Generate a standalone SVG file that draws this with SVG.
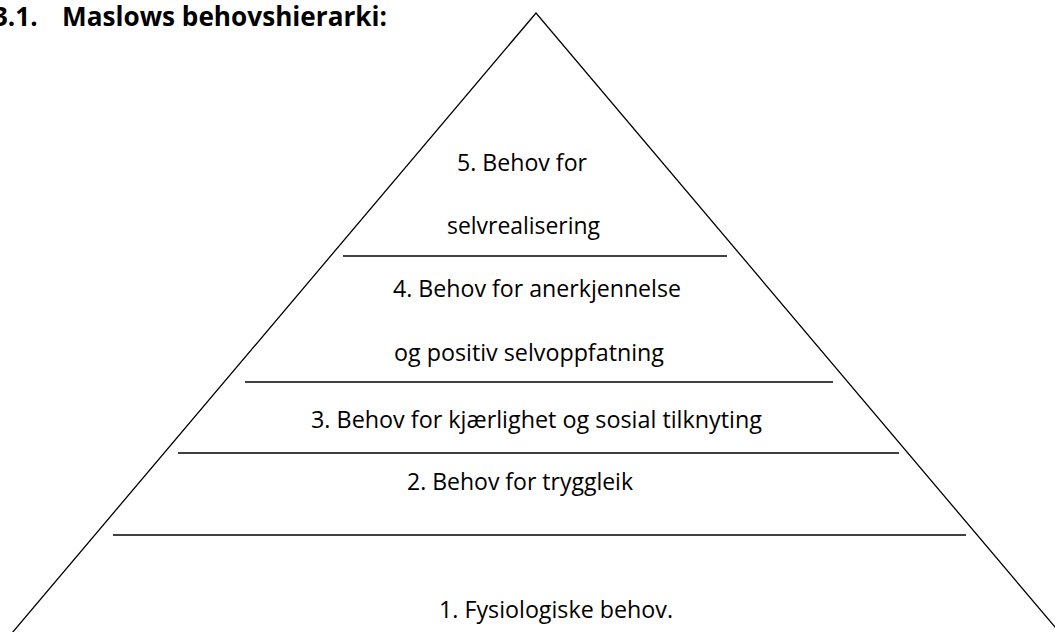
<svg xmlns="http://www.w3.org/2000/svg" width="1055" height="632" viewBox="0 0 1055 632">
  <style>
    .lbl { font-family: "Open Sans", "Liberation Sans", sans-serif; font-size: 23px; fill: #000; }
    .title { font-family: "Open Sans", "Liberation Sans", sans-serif; font-size: 26px; font-weight: bold; fill: #000; }
    .edge { stroke: #000; stroke-width: 1.3; fill: none; }
    .div { stroke: #000; stroke-width: 1.6; fill: none; }
  </style>
  <rect x="0" y="0" width="1055" height="632" fill="#fff"/>
  <g id="title">
    <text class="title" x="-7" y="26">3.1.</text>
    <text class="title" x="62" y="26" textLength="325" lengthAdjust="spacingAndGlyphs">Maslows behovshierarki:</text>
  </g>
  <g id="connectors">
    <polyline class="edge" points="12,633 536,13 1060,633"/>
    <line class="div" x1="343" y1="256" x2="727" y2="256"/>
    <line class="div" x1="245" y1="382" x2="833" y2="382"/>
    <line class="div" x1="178" y1="453" x2="899" y2="453"/>
    <line class="div" x1="113" y1="535" x2="966" y2="535"/>
  </g>
  <g id="level5">
    <text class="lbl" x="457" y="171" textLength="130" lengthAdjust="spacingAndGlyphs">5. Behov for</text>
    <text class="lbl" x="447" y="234" textLength="153" lengthAdjust="spacingAndGlyphs">selvrealisering</text>
  </g>
  <g id="level4">
    <text class="lbl" x="393" y="297" textLength="288" lengthAdjust="spacingAndGlyphs">4. Behov for anerkjennelse</text>
    <text class="lbl" x="394" y="361" textLength="270" lengthAdjust="spacingAndGlyphs">og positiv selvoppfatning</text>
  </g>
  <g id="level3">
    <text class="lbl" x="311" y="428" textLength="451" lengthAdjust="spacingAndGlyphs">3. Behov for kjærlighet og sosial tilknyting</text>
  </g>
  <g id="level2">
    <text class="lbl" x="407" y="490" textLength="226" lengthAdjust="spacingAndGlyphs">2. Behov for tryggleik</text>
  </g>
  <g id="level1">
    <text class="lbl" x="439" y="618" textLength="234" lengthAdjust="spacingAndGlyphs">1. Fysiologiske behov.</text>
  </g>
</svg>
